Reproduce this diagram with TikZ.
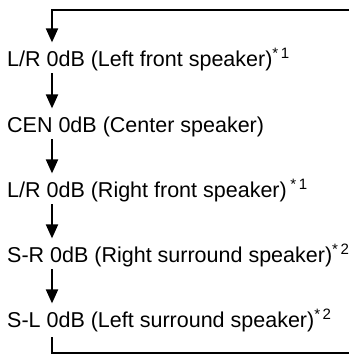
\documentclass[tikz,border=0pt]{standalone}
\usepackage{fontspec}
\setmainfont{Liberation Sans}
\usetikzlibrary{arrows.meta}
\begin{document}
\begin{tikzpicture}[x=1pt,y=-1pt,
  lbl/.style={inner sep=0pt,anchor=base west,text height=15.4pt,text depth=5pt,
    font=\fontsize{21.5}{26}\selectfont},
  conn/.style={line width=2pt},
  arr/.style={conn,-{Triangle[length=14pt,width=12pt]},shorten >=8pt,shorten <=2pt}]
\useasboundingbox (0,0) rectangle (349,362);
\coordinate (ax) at (52,0);
\coordinate (topR) at (349,10);
\coordinate (botR) at (349,353);
\node[lbl] (t1) at (7,66) {L/R 0dB (Left front speaker)\textsuperscript{*\,1}};
\node[lbl] (t2) at (7,132) {CEN 0dB (Center speaker)};
\node[lbl] (t3) at (7,197) {L/R 0dB (Right front speaker)\,\textsuperscript{*\,1}};
\node[lbl] (t4) at (7,262) {S-R 0dB (Right surround speaker)\textsuperscript{*\,2}};
\node[lbl] (t5) at (7,327) {S-L 0dB (Left surround speaker)\textsuperscript{*\,2}};
\draw[conn,-{Triangle[length=14pt,width=12pt]},shorten >=8pt] (topR) -| (t1.north -| ax);
\draw[arr] (t1.south -| ax) -- (t2.north -| ax);
\draw[arr] (t2.south -| ax) -- (t3.north -| ax);
\draw[arr] (t3.south -| ax) -- (t4.north -| ax);
\draw[arr] (t4.south -| ax) -- (t5.north -| ax);
\draw[conn,shorten <=5pt] (t5.south -| ax) |- (botR);
\end{tikzpicture}
\end{document}
